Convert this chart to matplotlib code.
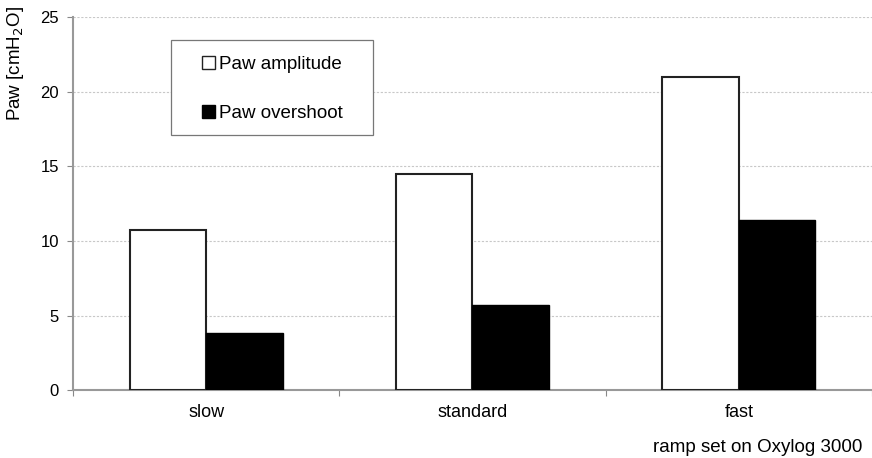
import numpy as np
import matplotlib
matplotlib.use("Agg")
import matplotlib.pyplot as plt
from matplotlib.patches import Rectangle

plt.rcParams['font.family'] = ['Liberation Sans', 'DejaVu Sans']

categories = ["slow", "standard", "fast"]
amplitude = [10.7, 14.5, 21.0]
overshoot = [3.85, 5.7, 11.4]

fig = plt.figure(figsize=(8.72, 4.58), dpi=100)
ax = fig.add_axes([0.0837, 0.148, 0.9163, 0.815])

x = np.arange(len(categories))
w = 0.287
ax.bar(x - w/2, amplitude, w, color="white", edgecolor="#222222", linewidth=1.5,
       label="Paw amplitude", zorder=3)
ax.bar(x + w/2, overshoot, w, color="black", edgecolor="black", linewidth=1.0,
       label="Paw overshoot", zorder=3)

ax.set_xlim(-0.5, 2.5)
ax.set_ylim(0, 25)
ax.set_yticks(np.arange(0, 26, 5))
ax.yaxis.grid(True, color="#c8c8c8", linestyle=(0, (2, 1.5)), linewidth=0.8, zorder=0)

# category labels sit between the boundary ticks
ax.set_xticks([-0.5, 0.5, 1.5, 2.5])
ax.set_xticklabels([])
ax.set_xticks(x, minor=True)
ax.set_xticklabels(categories, minor=True, fontsize=13)
ax.tick_params(axis="x", which="minor", length=0, pad=10)
ax.tick_params(axis="x", which="major", length=4, color="#888888")
ax.tick_params(axis="y", length=4, color="#888888", labelsize=12, pad=6)

for s in ["top", "right"]:
    ax.spines[s].set_visible(False)
for s in ["left", "bottom"]:
    ax.spines[s].set_color("#999999")
    ax.spines[s].set_linewidth(1.5)

fig.text(15/872, 1 - 64/458, "Paw [cmH$_2$O]", rotation=90, ha="center", va="center",
         fontsize=13.5)
fig.text(0.9885, 0.024, "ramp set on Oxylog 3000", ha="right", va="center", fontsize=13.5)

# legend box
ax.add_patch(Rectangle((0.1227, 0.684), 0.2528, 0.254, transform=ax.transAxes,
                       facecolor="white", edgecolor="#777777", linewidth=0.9, zorder=4))
leg = ax.legend(loc="center", bbox_to_anchor=(0.2491, 0.808), fontsize=13.5,
                frameon=False, handlelength=0.7, handleheight=0.7, handletextpad=0.2,
                labelspacing=1.7, borderpad=0, borderaxespad=0)
leg.set_zorder(5)
for h in leg.legend_handles:
    h.set_linewidth(1.0)

fig.savefig("out.png", dpi=100)
